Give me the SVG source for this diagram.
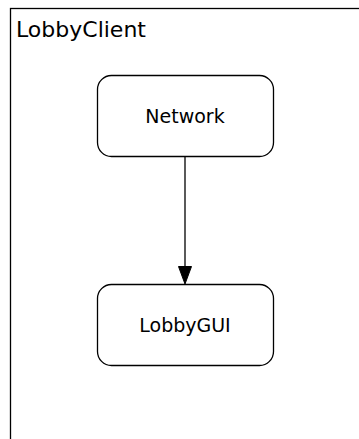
<svg xmlns="http://www.w3.org/2000/svg" width="359" height="439" viewBox="0 0 359 439">
<style>
.cluster{fill:#fff;stroke:#000;stroke-width:1.3}
.node rect{fill:#fff;stroke:#000;stroke-width:1.3}
.node text{font-family:"DejaVu Sans",sans-serif;font-size:19px;text-anchor:middle;fill:#000}
.title{font-family:"DejaVu Sans",sans-serif;font-size:22px;fill:#000}
.edge{stroke:#000;stroke-width:1.3;fill:none}
.head{fill:#000;stroke:#000;stroke-width:1}
</style>
<rect width="359" height="439" fill="#fff"/>
<g id="LobbyClient">
<rect class="cluster" x="10.5" y="8.5" width="360" height="450"/>
<text class="title" x="16" y="37">LobbyClient</text>
</g>
<g id="connectors">
<line class="edge" x1="185" y1="156" x2="185" y2="268"/>
<path class="head" d="M178.5,266.5 L185,284 L191.5,266.5 Z"/>
</g>
<g id="Network" class="node">
<rect x="97.5" y="75.5" width="176" height="81" rx="14"/>
<text x="185" y="123">Network</text>
</g>
<g id="LobbyGUI" class="node">
<rect x="97.5" y="284.5" width="176" height="81" rx="14"/>
<text x="185" y="332">LobbyGUI</text>
</g>
</svg>
